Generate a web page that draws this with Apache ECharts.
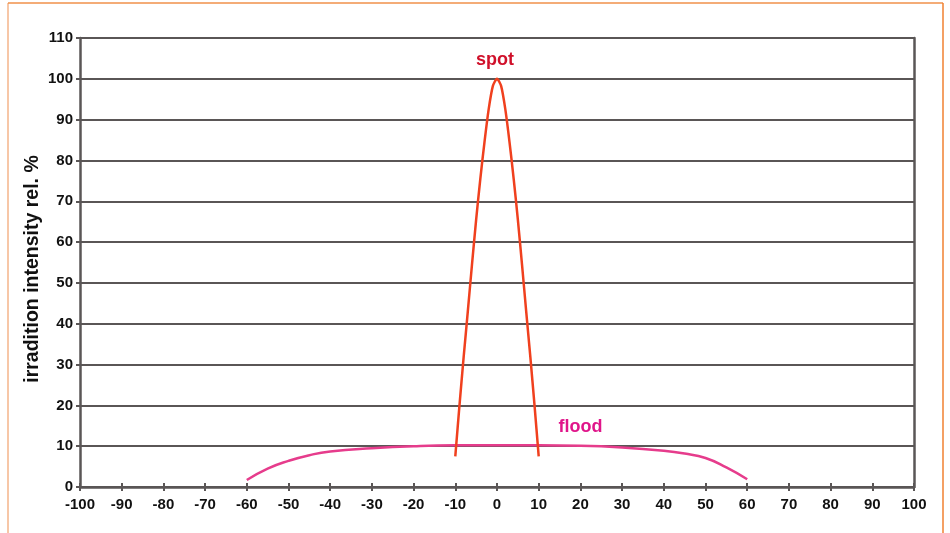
<!DOCTYPE html>
<html><head><meta charset="utf-8">
<script src="https://cdn.jsdelivr.net/npm/echarts@6/dist/echarts.min.js"></script>
<style>html,body{margin:0;padding:0;background:#fff}#c{width:950px;height:533px}</style>
</head><body><div id="c"></div>
<script>
const spotX = [-10,-9,-8,-7,-6,-5,-4,-3,-2,-1,0,1,2,3,4,5,6,7,8,9,10];
const spotY = [7.5,20,31.8,43,54.5,65.5,75.5,84.5,92.5,98.2,100,98.2,92.5,84.5,75.5,65.5,54.5,43,31.8,20,7.5];
const floodX = [-60,-55,-50,-45,-40,-30,-20,-10,0,10,20,30,40,45,50,55,60];
const floodY = [1.7,4.5,6.4,7.8,8.7,9.5,10.0,10.2,10.2,10.2,10.1,9.7,8.9,8.2,7.1,4.8,1.9];
const yTitle = 'irradition intensity rel. %';
const spotName = 'spot', floodName = 'flood';

const chart = echarts.init(document.getElementById('c'), null, {renderer:'canvas'});
const axisCol = '#5a5656';
const font = 'Liberation Sans, Arial, sans-serif';
const pair = (xs, ys) => xs.map((x,i)=>[x, ys[i]]);
chart.setOption({
  animation:false,
  grid:{left:80,right:36,top:38,bottom:46},
  graphic:[
    {type:'line', shape:{x1:8,y1:3,x2:8,y2:533}, style:{stroke:'#f5b48a',lineWidth:1.5}},
    {type:'line', shape:{x1:8,y1:3,x2:943,y2:3}, style:{stroke:'#f0904a',lineWidth:1.5}},
    {type:'line', shape:{x1:943,y1:3,x2:943,y2:533}, style:{stroke:'#f08030',lineWidth:1.5}},
    {type:'text', x:33, y:269, rotation:Math.PI/2,
     style:{text:yTitle, fill:'#111', font:'bold 19.5px Liberation Sans, Arial, sans-serif', align:'center', verticalAlign:'middle'}}
  ],
  xAxis:[{
    type:'value', min:-100, max:100, interval:10,
    axisLine:{show:true, onZero:false, lineStyle:{color:axisCol,width:2.5}},
    axisTick:{show:true, length:4, lineStyle:{color:axisCol,width:2}},
    splitLine:{show:false},
    axisLabel:{color:'#111', fontSize:15, fontWeight:'bold', fontFamily:font, margin:10}
  },{
    type:'value', min:-100, max:100, interval:10, position:'bottom',
    axisLine:{show:false, onZero:false},
    axisTick:{show:true, inside:true, length:4, lineStyle:{color:axisCol,width:2}},
    axisLabel:{show:false}, splitLine:{show:false}
  }],
  yAxis:[{
    type:'value', min:0, max:110, interval:10,
    axisLine:{show:true, onZero:false, lineStyle:{color:axisCol,width:2.5}},
    axisTick:{show:true, length:4, lineStyle:{color:axisCol,width:2}},
    splitLine:{show:true, lineStyle:{color:axisCol,width:2}},
    axisLabel:{color:'#111', fontSize:15, fontWeight:'bold', fontFamily:font, margin:7}
  },{
    type:'value', min:0, max:110, position:'right',
    axisLine:{show:true, onZero:false, lineStyle:{color:axisCol,width:2.5}},
    axisTick:{show:false}, axisLabel:{show:false}, splitLine:{show:false}
  }],
  series:[{
    name:floodName, type:'line', data:pair(floodX,floodY), smooth:0.5, showSymbol:false,
    lineStyle:{color:'#e63c8c', width:2.5}, z:3,
    markPoint:{symbol:'circle', symbolSize:0, data:[{coord:[20,14.8], value:floodName}],
      label:{show:true, formatter:floodName, color:'#e0158a', fontSize:18, fontWeight:'bold', fontFamily:font}}
  },{
    name:spotName, type:'line', data:pair(spotX,spotY), smooth:0.25, showSymbol:false,
    lineStyle:{color:'#f0401e', width:2.5}, z:4,
    markPoint:{symbol:'circle', symbolSize:0, data:[{coord:[-0.5,104.5], value:spotName}],
      label:{show:true, formatter:spotName, color:'#d0102a', fontSize:18, fontWeight:'bold', fontFamily:font}}
  }]
});
</script></body></html>
